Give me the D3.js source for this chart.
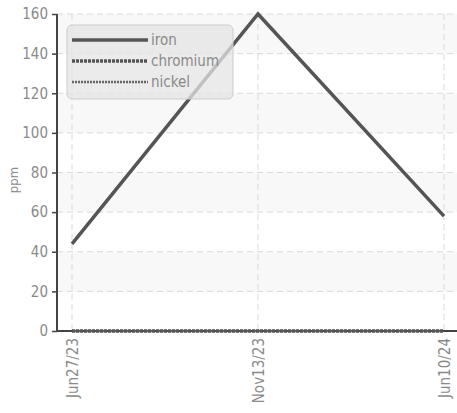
<!DOCTYPE html>
<html><head><meta charset="utf-8">
<script src="https://cdn.jsdelivr.net/npm/d3@7"></script>
<style>body{margin:0;background:#fff}svg text{font-family:"DejaVu Sans Condensed","DejaVu Sans",sans-serif;font-stretch:condensed;fill:#8a8a8a}</style>
</head><body><svg id="c" width="457" height="413"></svg>
<script>
const categories = ["Jun27/23","Nov13/23","Jun10/24"];
const iron = [44,160,58];
const chromium = [0,0,0];
const nickel = [0,0,0];
const yTicks = [0,20,40,60,80,100,120,140,160];
const seriesNames = ["iron","chromium","nickel"];

const svg = d3.select("#c");
const L=57, R=457, T=14, B=331;
const x = d3.scalePoint().domain(categories).range([72,444]);
const y = d3.scaleLinear().domain([0,160]).range([B,T]);

const g = svg.append("g");
for (let i=0;i<yTicks.length-1;i++){
  if (i%2===1) g.append("rect").attr("x",L).attr("width",R-L).attr("y",y(yTicks[i+1])).attr("height",y(yTicks[i])-y(yTicks[i+1])).attr("fill","#f8f8f8");
}
g.selectAll("line.h").data(yTicks.slice(1)).join("line").attr("x1",L).attr("x2",R).attr("y1",d=>y(d)).attr("y2",d=>y(d)).attr("stroke","#d9d9d9").attr("stroke-dasharray","6,4");
g.selectAll("line.v").data(categories).join("line").attr("x1",d=>x(d)).attr("x2",d=>x(d)).attr("y1",T).attr("y2",B).attr("stroke","#d9d9d9").attr("stroke-dasharray","6,4");

const ya = d3.axisLeft(y).tickValues(yTicks).tickSize(4).tickPadding(5);
const yg = svg.append("g").attr("transform",`translate(${L},0)`).call(ya);
yg.select(".domain").attr("stroke","#444").attr("stroke-width",2).attr("d",`M0,${T}V${B}`);
yg.selectAll(".tick line").attr("stroke","#444").attr("x1",0).attr("x2",-5).attr("stroke-width",1.5);
yg.selectAll(".tick text").attr("font-size",15).style("fill","#8a8a8a");

const xa = d3.axisBottom(x).tickSize(0).tickPadding(6);
const xg = svg.append("g").attr("transform",`translate(0,${B})`).call(xa);
xg.select(".domain").attr("stroke","#444").attr("stroke-width",2).attr("d",`M${L},0H${R}`);
xg.selectAll(".tick text").attr("font-size",15).style("fill","#8a8a8a")
  .attr("transform","rotate(-90)").attr("text-anchor","end").attr("dx","-7").attr("dy","0.35em").attr("y",0).attr("x",0);

svg.append("text").attr("transform","translate(18,180) rotate(-90)").attr("text-anchor","middle").attr("font-size",13).text("ppm");

const line = d3.line().x((d,i)=>x(categories[i])).y(d=>y(d));
svg.append("path").datum(nickel).attr("d",line).attr("fill","none").attr("stroke","#666").attr("stroke-width",2.5).attr("stroke-dasharray","2,1");
svg.append("path").datum(chromium).attr("d",line).attr("fill","none").attr("stroke","#555").attr("stroke-width",3.5).attr("stroke-dasharray","3,1");
svg.append("path").datum(iron).attr("d",line).attr("fill","none").attr("stroke","#555").attr("stroke-width",3.5).attr("stroke-linejoin","miter");

const lg = svg.append("g");
lg.append("rect").attr("x",67).attr("y",25).attr("width",166).attr("height",74).attr("rx",5).attr("fill","rgba(228,228,228,0.75)").attr("stroke","#ccc");
const styles=[{w:3.5,d:null,c:"#555"},{w:3.5,d:"3,1",c:"#555"},{w:2.5,d:"2,1",c:"#666"}];
seriesNames.forEach((n,i)=>{
  const yy=40+i*21;
  lg.append("line").attr("x1",72).attr("x2",148).attr("y1",yy).attr("y2",yy).attr("stroke",styles[i].c).attr("stroke-width",styles[i].w).attr("stroke-dasharray",styles[i].d);
  lg.append("text").attr("x",151).attr("y",yy).attr("dy","0.35em").attr("font-size",15).style("fill","#8a8a8a").text(n);
});
</script></body></html>
